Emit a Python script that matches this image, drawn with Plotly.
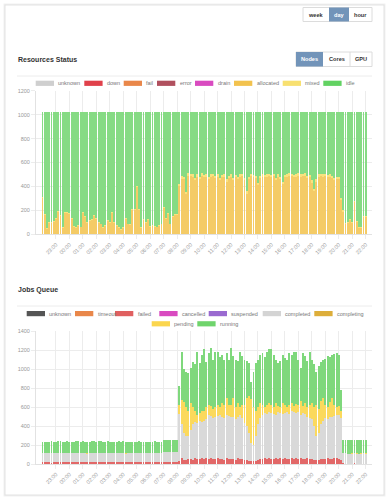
import plotly.graph_objects as go
import pandas as pd

W, H = 389, 500

# ---------------- data ----------------
times = pd.date_range("2024-05-01 22:00", periods=145, freq="10min")
tick_vals = pd.date_range("2024-05-01 23:00", periods=24, freq="h")
tick_labels = ["23:00", "00:00", "01:00", "02:00", "03:00", "04:00", "05:00", "06:00",
               "07:00", "08:00", "09:00", "10:00", "11:00", "12:00", "13:00", "14:00",
               "15:00", "16:00", "17:00", "18:00", "19:00", "20:00", "21:00", "22:00"]

res_legend = ["unknown", "down", "fail", "error", "drain", "allocated", "mixed", "idle"]
res_allocated = [
    301, 162, 42, 92, 92, 107,
    132, 187, 152, 52, 177, 177,
    172, 132, 62, 52, 67, 57,
    177, 142, 92, 112, 122, 157,
    132, 97, 82, 52, 67, 112,
    92, 177, 92, 72, 52, 37,
    52, 132, 82, 77, 207, 207,
    392, 207, 52, 117, 92, 122,
    62, 67, 62, 57, 72, 82,
    222, 132, 167, 82, 147, 162,
    162, 405, 465, 460, 335, 488,
    485, 480, 450, 480, 460, 490,
    475, 480, 460, 480, 485, 470,
    480, 450, 475, 480, 440, 470,
    480, 450, 475, 460, 480, 485,
    450, 340, 460, 485, 475, 470,
    410, 470, 480, 475, 480, 485,
    475, 485, 450, 480, 460, 420,
    475, 480, 490, 485, 475, 480,
    490, 480, 485, 490, 470, 475,
    430, 360, 440, 480, 485, 480,
    485, 475, 480, 470, 450, 460,
    460, 288, 190, 87, 92, 122,
    92, 272, 102, 52, 52, 142,
    142]
res_mixed = [
    8, 8, 8, 8, 8, 8,
    8, 8, 8, 8, 8, 8,
    8, 8, 8, 8, 8, 8,
    8, 8, 8, 8, 8, 8,
    8, 8, 8, 8, 8, 8,
    8, 8, 8, 8, 8, 8,
    8, 8, 8, 8, 8, 8,
    8, 8, 8, 8, 8, 8,
    8, 8, 8, 8, 8, 8,
    8, 8, 8, 8, 8, 8,
    8, 15, 20, 20, 15, 22,
    20, 20, 20, 20, 20, 20,
    20, 20, 20, 20, 20, 20,
    20, 20, 20, 20, 20, 20,
    20, 20, 20, 20, 20, 20,
    20, 20, 20, 20, 20, 20,
    20, 20, 20, 20, 20, 20,
    20, 20, 20, 20, 20, 20,
    20, 20, 20, 20, 20, 20,
    20, 20, 20, 20, 20, 20,
    20, 20, 20, 20, 20, 20,
    20, 20, 20, 20, 20, 20,
    20, 12, 10, 8, 8, 8,
    8, 8, 8, 8, 8, 8,
    8]
res_idle = [
    711, 850, 970, 920, 920, 905,
    880, 825, 860, 960, 835, 835,
    840, 880, 950, 960, 945, 955,
    835, 870, 920, 900, 890, 855,
    880, 915, 930, 960, 945, 900,
    920, 835, 920, 940, 960, 975,
    960, 880, 930, 935, 805, 805,
    620, 805, 960, 895, 920, 890,
    950, 945, 950, 955, 940, 930,
    790, 880, 845, 930, 865, 850,
    850, 600, 535, 540, 670, 510,
    515, 520, 550, 520, 540, 510,
    525, 520, 540, 520, 515, 530,
    520, 550, 525, 520, 560, 530,
    520, 550, 525, 540, 520, 515,
    550, 660, 540, 515, 525, 530,
    590, 530, 520, 525, 520, 515,
    525, 515, 550, 520, 540, 580,
    525, 520, 510, 515, 525, 520,
    510, 520, 515, 510, 530, 525,
    570, 640, 560, 520, 515, 520,
    515, 525, 520, 530, 550, 540,
    540, 720, 820, 925, 920, 890,
    920, 740, 910, 960, 960, 870,
    870]

job_legend_row1 = ["unknown", "timeout", "failed", "cancelled", "suspended", "completed", "completing"]
job_legend_row2 = ["pending", "running"]
job_timeout = [
    2, 2, 2, 2, 2, 2,
    2, 2, 2, 2, 2, 2,
    2, 2, 2, 2, 2, 2,
    2, 2, 2, 2, 2, 2,
    2, 2, 2, 2, 2, 2,
    2, 2, 2, 2, 2, 2,
    2, 2, 2, 2, 2, 2,
    2, 2, 2, 2, 2, 2,
    2, 2, 2, 2, 2, 2,
    2, 2, 2, 2, 2, 2,
    2, 5, 5, 5, 5, 5,
    5, 5, 5, 5, 5, 5,
    5, 5, 5, 5, 5, 5,
    5, 5, 5, 5, 5, 5,
    5, 5, 5, 5, 5, 5,
    5, 5, 5, 5, 5, 5,
    5, 5, 5, 5, 5, 5,
    5, 5, 5, 5, 5, 5,
    5, 5, 5, 5, 5, 5,
    5, 5, 5, 5, 5, 5,
    5, 5, 5, 5, 5, 5,
    5, 5, 5, 5, 5, 5,
    5, 5, 0, 0, 0, 0,
    0, 0, 0, 0, 0, 0,
    0]
job_failed = [
    15, 14, 16, 15, 13, 15,
    16, 15, 14, 15, 16, 15,
    14, 15, 15, 16, 15, 14,
    15, 16, 14, 15, 15, 16,
    15, 14, 16, 15, 14, 15,
    16, 15, 15, 14, 15, 16,
    15, 14, 15, 16, 15, 14,
    15, 16, 15, 14, 16, 15,
    14, 15, 16, 15, 15, 14,
    15, 16, 15, 14, 15, 16,
    15, 30, 60, 40, 35, 45,
    50, 40, 55, 45, 50, 60,
    45, 55, 50, 60, 45, 50,
    55, 45, 50, 40, 55, 50,
    45, 50, 40, 55, 45, 50,
    40, 35, 30, 25, 25, 30,
    40, 45, 50, 55, 45, 60,
    50, 45, 55, 50, 60, 45,
    55, 50, 45, 60, 50, 55,
    45, 55, 50, 45, 55, 50,
    45, 40, 35, 40, 50, 45,
    50, 55, 45, 50, 55, 60,
    50, 40, 6, 5, 5, 4,
    5, 6, 5, 4, 5, 5,
    5]
job_completed = [
    95, 96, 94, 95, 97, 95,
    94, 95, 96, 95, 94, 96,
    95, 94, 95, 96, 95, 95,
    96, 95, 94, 95, 96, 94,
    95, 96, 95, 94, 95, 96,
    94, 95, 96, 95, 95, 94,
    95, 94, 95, 96, 94, 95,
    96, 95, 94, 95, 95, 96,
    95, 94, 96, 95, 94, 95,
    106, 107, 105, 106, 108, 106,
    106, 495, 355, 285, 250, 250,
    305, 375, 380, 380, 395, 375,
    400, 410, 465, 445, 430, 445,
    450, 470, 445, 435, 460, 455,
    450, 435, 425, 440, 470, 425,
    385, 360, 295, 190, 170, 265,
    375, 430, 465, 480, 480, 485,
    485, 480, 460, 495, 475, 480,
    480, 495, 480, 495, 495, 480,
    500, 460, 485, 480, 440, 425,
    420, 355, 260, 285, 365, 400,
    425, 410, 450, 435, 450, 455,
    465, 435, 105, 106, 104, 105,
    105, 106, 105, 104, 105, 106,
    105]
job_pending = [
    3, 2, 4, 3, 3, 2,
    3, 4, 3, 2, 3, 3,
    2, 3, 4, 3, 2, 3,
    3, 3, 2, 4, 3, 3,
    4, 3, 3, 2, 3, 4,
    3, 2, 3, 3, 4, 3,
    3, 4, 3, 2, 3, 3,
    2, 3, 3, 4, 3, 2,
    3, 3, 2, 3, 4, 3,
    2, 2, 2, 2, 2, 2,
    2, 90, 250, 320, 310, 260,
    280, 180, 120, 90, 90, 120,
    110, 130, 100, 100, 100, 100,
    110, 80, 140, 140, 180, 110,
    120, 210, 130, 140, 80, 140,
    190, 300, 390, 460, 400, 260,
    180, 160, 100, 60, 90, 90,
    80, 70, 120, 60, 60, 110,
    80, 50, 90, 80, 60, 90,
    70, 140, 70, 110, 100, 140,
    170, 200, 320, 250, 240, 250,
    140, 130, 150, 210, 110, 80,
    90, 80, 1, 1, 1, 1,
    1, 1, 1, 1, 1, 1,
    1]
job_running = [
    120, 122, 119, 121, 123, 120,
    118, 121, 122, 120, 119, 121,
    122, 120, 119, 121, 123, 120,
    121, 119, 122, 120, 121, 123,
    120, 122, 121, 119, 120, 122,
    121, 120, 119, 122, 121, 120,
    122, 121, 120, 119, 122, 121,
    120, 122, 121, 120, 119, 121,
    121, 120, 122, 121, 120, 119,
    128, 127, 129, 128, 127, 128,
    128, 200, 510, 350, 370, 400,
    370, 470, 490, 660, 520, 587,
    647, 477, 545, 608, 515, 582,
    562, 530, 510, 480, 465, 470,
    598, 440, 495, 440, 580, 520,
    475, 380, 340, 187, 372, 500,
    495, 510, 545, 530, 562, 567,
    587, 550, 455, 450, 480, 510,
    500, 495, 545, 510, 572, 550,
    475, 350, 555, 500, 480, 562,
    455, 450, 352, 450, 417, 395,
    490, 540, 480, 450, 540, 565,
    540, 219, 140, 141, 142, 140,
    141, 140, 142, 141, 140, 141,
    141]

# ---------------- styling ----------------
FONT = "Liberation Sans, Arial, sans-serif"
res_colors = {"unknown": "#cfcfcf", "down": "#e0414b", "fail": "#e9874a", "error": "#b0505e",
              "drain": "#d94bc0", "allocated": "#f2c24e", "mixed": "#f8e070", "idle": "#62d262"}
job_colors = {"unknown": "#555555", "timeout": "#e9874a", "failed": "#e06060", "cancelled": "#d94bc0",
              "suspended": "#9a6ad0", "completed": "#d4d4d4", "completing": "#ddae3a",
              "pending": "#fbd64e", "running": "#6fd46c"}
bar_colors = {"allocated": "#f4cb66", "mixed": "#f9e27e", "idle": "#86db84",
              "timeout": "#e9874a", "failed": "#e26868", "completed": "#d9d9d9",
              "pending": "#fbd95c", "running": "#7fd87c"}


def X(px):
    return px / W


def Y(py):
    return 1 - py / H


fig = go.Figure()

for name, vals in [("allocated", res_allocated), ("mixed", res_mixed), ("idle", res_idle)]:
    fig.add_trace(go.Bar(x=times, y=vals, name=name, marker=dict(color=bar_colors[name], line=dict(width=0)),
                         xaxis="x", yaxis="y", showlegend=False, hoverinfo="skip"))
for name, vals in [("timeout", job_timeout), ("failed", job_failed), ("completed", job_completed),
                   ("pending", job_pending), ("running", job_running)]:
    fig.add_trace(go.Bar(x=times, y=vals, name=name, marker=dict(color=bar_colors[name], line=dict(width=0)),
                         xaxis="x2", yaxis="y2", showlegend=False, hoverinfo="skip"))

shapes = []
annots = []


def rect(x0, y0, x1, y1, fill="rgba(0,0,0,0)", line=None, lw=1, layer="above"):
    shapes.append(dict(type="rect", xref="paper", yref="paper", x0=X(x0), x1=X(x1), y0=Y(y1), y1=Y(y0),
                       fillcolor=fill, layer=layer,
                       line=dict(color=line if line else "rgba(0,0,0,0)", width=lw if line else 0)))


def hline(x0, x1, y, color, lw=1, layer="below"):
    shapes.append(dict(type="line", xref="paper", yref="paper", x0=X(x0), x1=X(x1), y0=Y(y), y1=Y(y),
                       line=dict(color=color, width=lw), layer=layer))


def text(x, y, s, size, color, xanchor="left", bold=False):
    annots.append(dict(xref="paper", yref="paper", x=X(x), y=Y(y), text=("<b>%s</b>" % s) if bold else s,
                       showarrow=False, xanchor=xanchor, yanchor="middle",
                       font=dict(size=size, color=color, family=FONT), borderpad=0))


# card with soft shadow
rect(3.5, 3.5, 385.5, 496.5, fill="#f1f1f1", layer="below")
rect(4.5, 4.5, 384.5, 495.5, fill="#e2e2e2", layer="below")
rect(5.5, 5.5, 383.5, 494.5, fill="#ffffff", layer="below")

# button groups
def button_group(x_edges, y0, y1, labels, active):
    rect(x_edges[0], y0, x_edges[-1], y1, fill="#ffffff", line="#dcdcdc", lw=1)
    for i, lab in enumerate(labels):
        xa, xb = x_edges[i], x_edges[i + 1]
        if i == active:
            rect(xa, y0, xb, y1, fill="#7294b9")
        elif i > 0 and i - 1 != active:
            shapes.append(dict(type="line", xref="paper", yref="paper", x0=X(xa), x1=X(xa), y0=Y(y1), y1=Y(y0),
                               line=dict(color="#dcdcdc", width=1)))
        text((xa + xb) / 2, (y0 + y1) / 2, lab, 5.6, "#ffffff" if i == active else "#333333",
             xanchor="center", bold=True)


button_group([303, 329, 349, 372], 7.5, 21.5, ["week", "day", "hour"], 1)
button_group([296, 323, 350, 372], 52, 66.5, ["Nodes", "Cores", "GPU"], 0)

# titles and separators
text(16.5, 59, "Resources Status", 7, "#333333", bold=True)
hline(17, 372, 76, "#ececec")
text(16.5, 290, "Jobs Queue", 7, "#333333", bold=True)
hline(17, 372, 306, "#ececec")

# custom legends
def legend_item(x0, y, name, color):
    rect(x0, y - 2.6, x0 + 18.3, y + 2.6, fill=color)
    text(x0 + 21.5, y, name, 5.5, "#777777")


for name, x0 in zip(res_legend, [35.7, 84.3, 123.7, 157, 195, 234, 282.7, 323.3]):
    legend_item(x0, 83.3, name, res_colors[name])
for name, x0 in zip(job_legend_row1, [26.7, 75, 115, 159.3, 208.7, 262.7, 314.3]):
    legend_item(x0, 313.6, name, job_colors[name])
for name, x0 in zip(job_legend_row2, [151.7, 197.3]):
    legend_item(x0, 323.8, name, job_colors[name])

axis_common = dict(showgrid=True, gridcolor="#ececec", gridwidth=1, ticks="outside", ticklen=4,
                   tickcolor="#ececec", showline=True, linecolor="#e2e2e2", linewidth=1, zeroline=False,
                   fixedrange=True, automargin=False, tickfont=dict(size=5.5, color="#999999", family=FONT))
x_common = dict(axis_common, type="date", range=["2024-05-01 21:31", "2024-05-02 22:28"],
                tickmode="array", tickvals=list(tick_vals), ticktext=tick_labels, tickangle=-45,
                domain=[X(36), X(372)])

fig.update_layout(
    width=W, height=H, autosize=False, template="none",
    margin=dict(l=0, r=0, t=0, b=0, pad=0),
    paper_bgcolor="#ffffff", plot_bgcolor="rgba(0,0,0,0)",
    font=dict(family=FONT, size=6, color="#888888"),
    barmode="stack", bargap=0.14, showlegend=False,
    xaxis=dict(x_common, anchor="y"),
    yaxis=dict(axis_common, range=[0, 1200], tickvals=[0, 200, 400, 600, 800, 1000, 1200],
               domain=[Y(234.3), Y(90.7)], anchor="x"),
    xaxis2=dict(x_common, anchor="y2"),
    yaxis2=dict(axis_common, range=[0, 1400], tickvals=[0, 200, 400, 600, 800, 1000, 1200, 1400],
                domain=[Y(464), Y(331)], anchor="x2"),
    shapes=shapes, annotations=annots,
)

fig.write_html("out.html", config={"displayModeBar": False, "staticPlot": True},
               post_script="document.body.style.margin='0';document.body.style.overflow='hidden';")
